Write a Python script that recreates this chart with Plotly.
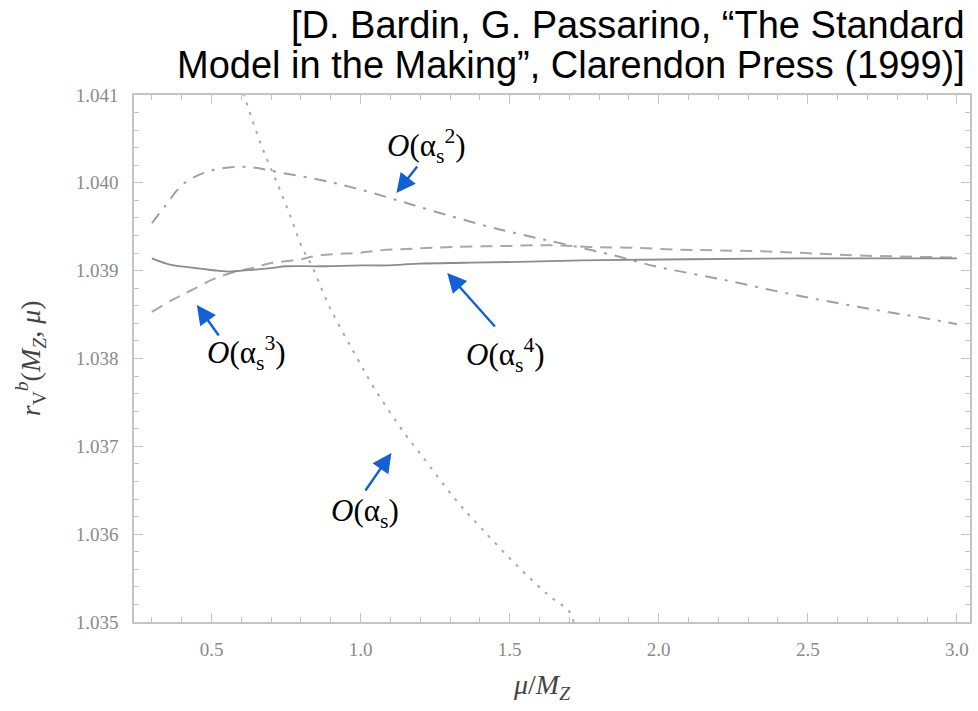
import plotly.graph_objects as go

# O(alpha_s) - dotted
x_as1 = [0.58, 0.612, 0.669, 0.726, 0.769, 0.803, 0.837, 0.897, 0.981, 1.048, 1.149, 1.206, 1.317, 1.407, 1.531, 1.632, 1.702, 1.72]
y_as1 = [1.04135, 1.04097, 1.04041, 1.03995, 1.03958, 1.03927, 1.03905, 1.03858, 1.03805, 1.03765, 1.03714, 1.03689, 1.03640, 1.03606, 1.03562, 1.03530, 1.03511, 1.03490]

# O(alpha_s^2) - dash-dot
x_as2 = [0.30, 0.343, 0.410, 0.511, 0.625, 0.726, 0.870, 0.981, 1.115, 1.263, 1.431, 1.541, 1.843, 1.988, 2.212, 2.447, 2.682, 2.907, 3.0]
y_as2 = [1.03954, 1.03973, 1.04000, 1.04015, 1.04018, 1.04012, 1.04003, 1.03994, 1.03981, 1.03966, 1.03950, 1.03941, 1.03918, 1.03905, 1.03890, 1.03873, 1.03858, 1.03845, 1.03839]

# O(alpha_s^3) - dashed
x_as3 = [0.30, 0.37, 0.434, 0.504, 0.571, 0.638, 0.705, 0.785, 0.852, 0.919, 0.986, 1.063, 1.173, 1.307, 1.474, 1.632, 1.766, 1.91, 2.067, 2.2, 2.345, 2.492, 2.70, 3.0]
y_as3 = [1.03853, 1.03867, 1.03878, 1.03890, 1.03898, 1.03903, 1.03909, 1.03912, 1.03917, 1.03919, 1.03920, 1.03923, 1.03925, 1.03927, 1.03928, 1.03929, 1.03927, 1.03926, 1.03924, 1.03923, 1.03922, 1.03920, 1.03917, 1.03915]

# O(alpha_s^4) - solid
x_as4 = [0.30, 0.36, 0.42, 0.47, 0.52, 0.56, 0.60, 0.638, 0.70, 0.752, 0.862, 1.0, 1.086, 1.196, 1.35, 1.531, 1.80, 2.1, 2.47, 3.0]
y_as4 = [1.03914, 1.03907, 1.03904, 1.03902, 1.03900, 1.03899, 1.03900, 1.03901, 1.03903, 1.03905, 1.03905, 1.03906, 1.03906, 1.03908, 1.03909, 1.03910, 1.03912, 1.03913, 1.03914, 1.03914]

x_ticks = [0.5, 1.0, 1.5, 2.0, 2.5, 3.0]
y_ticks = [1.035, 1.036, 1.037, 1.038, 1.039, 1.040, 1.041]

labels = ["<i>O</i>(α<sub>s</sub><sup>2</sup>)", "<i>O</i>(α<sub>s</sub><sup>3</sup>)",
          "<i>O</i>(α<sub>s</sub><sup>4</sup>)", "<i>O</i>(α<sub>s</sub>)"]
citation_lines = ["[D. Bardin, G. Passarino, “The Standard",
                  "Model in the Making”, Clarendon Press (1999)]"]

fig = go.Figure()
fig.add_trace(go.Scatter(x=x_as1, y=y_as1, mode="lines", line_shape="spline",
                         line=dict(color="#aaaaaa", width=2, dash="3px,7px")))
fig.add_trace(go.Scatter(x=x_as2, y=y_as2, mode="lines", line_shape="spline",
                         line=dict(color="#a0a0a0", width=2, dash="12px,8px,3px,8px")))
fig.add_trace(go.Scatter(x=x_as3, y=y_as3, mode="lines", line_shape="spline",
                         line=dict(color="#a8a8a8", width=2, dash="12px,8px")))
fig.add_trace(go.Scatter(x=x_as4, y=y_as4, mode="lines", line_shape="spline",
                         line=dict(color="#8c8c8c", width=1.8)))

axis_common = dict(showgrid=False, zeroline=False, showline=True, linecolor="#c4c4c4",
                   linewidth=1.5, mirror="ticks", ticks="inside", ticklen=9, tickwidth=1,
                   tickcolor="#c4c4c4",
                   tickfont=dict(family="Liberation Serif", size=19, color="#8a8a8a"))

fig.update_xaxes(range=[0.24, 3.044], tickvals=x_ticks,
                 ticktext=[f"{v:.1f}" for v in x_ticks],
                 minor=dict(dtick=0.1, ticks="inside", ticklen=5, tickcolor="#c4c4c4"),
                 ticklabelstandoff=9, **axis_common)
fig.update_yaxes(range=[1.035, 1.041], tickvals=y_ticks,
                 ticktext=[f"{v:.3f}" for v in y_ticks],
                 minor=dict(dtick=0.0002, ticks="inside", ticklen=5, tickcolor="#c4c4c4"),
                 ticklabelstandoff=10, **axis_common)

def px(xp):
    return (xp - 134) / 838

def py(yp):
    return (622 - yp) / 527

annotations = []
# arrows: (tip_x, tip_y, tail_x, tail_y) in pixels
arrows = [(397, 193, 419, 165), (197, 305, 220, 337), (448, 273, 497, 328), (392, 453, 365, 492)]
for tx, ty, sx, sy in arrows:
    annotations.append(dict(xref="paper", yref="paper", x=px(tx), y=py(ty), ax=sx - tx, ay=sy - ty,
                            text="", showarrow=True, arrowhead=2, arrowsize=1.6, arrowwidth=2.4,
                            arrowcolor="#1160d6", standoff=0, startstandoff=0))
label_pos = [(427, 146), (247, 353), (506, 355), (366, 513)]
for (lx, ly), t in zip(label_pos, labels):
    annotations.append(dict(xref="paper", yref="paper", x=px(lx), y=py(ly), text=t, showarrow=False,
                            xanchor="center", yanchor="middle",
                            font=dict(family="Liberation Serif", size=31, color="black")))
for i, line in enumerate(citation_lines):
    annotations.append(dict(xref="paper", yref="paper", x=px(969), y=py(25 + 40 * i), text=line,
                            showarrow=False, xanchor="right", yanchor="middle",
                            font=dict(family="Liberation Sans", size=38, color="black")))
annotations.append(dict(xref="paper", yref="paper", x=px(543), y=py(686),
                        text="<i>μ</i>/<i>M</i><sub><i>Z</i></sub>", showarrow=False,
                        xanchor="center", yanchor="middle",
                        font=dict(family="Liberation Serif", size=28, color="#444444")))
annotations.append(dict(xref="paper", yref="paper", x=px(30), y=py(358),
                        text="<i>r</i><sub>V</sub><sup><i>b</i></sup>(<i>M</i><sub><i>Z</i></sub>, <i>μ</i>)",
                        showarrow=False, textangle=-90, xanchor="center", yanchor="middle",
                        font=dict(family="Liberation Serif", size=28, color="#444444")))

fig.update_layout(width=978, height=711, margin=dict(l=134, r=6, t=95, b=89),
                  paper_bgcolor="white", plot_bgcolor="white", showlegend=False,
                  annotations=annotations)

fig.write_html("out.html", config={"displayModeBar": False},
               post_script="document.body.style.margin='0px';")
